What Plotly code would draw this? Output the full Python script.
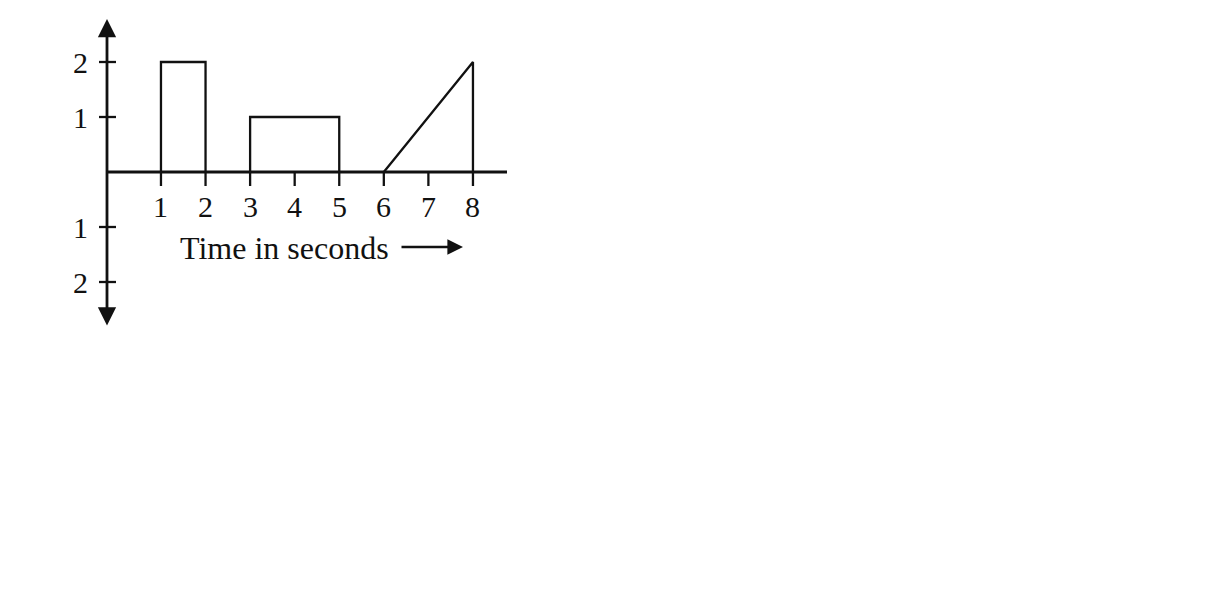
import plotly.graph_objects as go

# ---- data ----
pulse1_x = [1, 1, 2, 2]
pulse1_y = [0, 2, 2, 0]
pulse2_x = [3, 3, 5, 5]
pulse2_y = [0, 1, 1, 0]
ramp_x = [6, 8, 8]
ramp_y = [0, 2, 0]
x_ticks = [1, 2, 3, 4, 5, 6, 7, 8]
x_tick_labels = ["1", "2", "3", "4", "5", "6", "7", "8"]
y_ticks = [2, 1, -1, -2]
y_tick_labels = ["2", "1", "1", "2"]
x_title = "Time in seconds"

# ---- layout geometry (page-pixel mapping) ----
W, H = 1218, 616
OFF = 8                    # page body margin
X0PX, XSC = 116.4, 44.57   # page px of x=0, px per unit
Y0PX, YSC = 172.0, 55.0    # page px of y=0, px per unit


def dx(px):
    return (px - X0PX) / XSC


def dy(py):
    return (Y0PX - py) / YSC


INK = "#111111"
FONT = "Liberation Serif"

fig = go.Figure()

xs, ys = [], []
for px_, py_ in [(pulse1_x, pulse1_y), (pulse2_x, pulse2_y), (ramp_x, ramp_y)]:
    xs += px_ + [None]
    ys += py_ + [None]
fig.add_trace(go.Scatter(x=xs, y=ys, mode="lines",
                         line=dict(color=INK, width=2.3), hoverinfo="skip"))

shapes = []
# x axis line
shapes.append(dict(type="line", x0=dx(107), x1=dx(507), y0=0, y1=0,
                   line=dict(color=INK, width=2.8)))
# x ticks
for t in x_ticks:
    shapes.append(dict(type="line", x0=t, x1=t, y0=0, y1=dy(186),
                       line=dict(color=INK, width=2.3)))
# y ticks (crosses)
for t in y_ticks:
    shapes.append(dict(type="line", x0=dx(99), x1=dx(116), y0=t, y1=t,
                       line=dict(color=INK, width=2.3)))

annotations = []
# y axis with arrows at both ends
annotations.append(dict(x=dx(107), y=dy(19), ax=dx(107), ay=dy(327),
                        xref="x", yref="y", axref="x", ayref="y",
                        text="", showarrow=True, arrowhead=2, arrowside="end+start",
                        arrowsize=1.3, arrowwidth=2.8, arrowcolor=INK))
# arrow after x title
annotations.append(dict(x=dx(463), y=dy(247), ax=dx(400), ay=dy(247),
                        xref="x", yref="y", axref="x", ayref="y",
                        text="", showarrow=True, arrowhead=2,
                        arrowsize=1.2, arrowwidth=2.6, arrowcolor=INK))
# x tick labels
for t, lab in zip(x_ticks, x_tick_labels):
    annotations.append(dict(x=t, y=dy(206), text=lab, showarrow=False,
                            xanchor="center", yanchor="middle",
                            font=dict(family=FONT, size=30, color=INK)))
# y tick labels
for t, lab in zip(y_ticks, y_tick_labels):
    annotations.append(dict(x=dx(90), y=t, text=lab, showarrow=False,
                            xanchor="right", yanchor="middle",
                            font=dict(family=FONT, size=30, color=INK)))
# x title
annotations.append(dict(x=dx(284), y=dy(248), text=x_title, showarrow=False,
                        xanchor="center", yanchor="middle",
                        font=dict(family=FONT, size=32, color=INK)))

fig.update_layout(
    width=W, height=H,
    margin=dict(l=0, r=0, t=0, b=0),
    paper_bgcolor="white", plot_bgcolor="white",
    showlegend=False,
    xaxis=dict(range=[dx(OFF), dx(OFF + W)], visible=False, fixedrange=True),
    yaxis=dict(range=[dy(OFF + H), dy(OFF)], visible=False, fixedrange=True),
    shapes=shapes, annotations=annotations,
)

fig.write_html("out.html")
